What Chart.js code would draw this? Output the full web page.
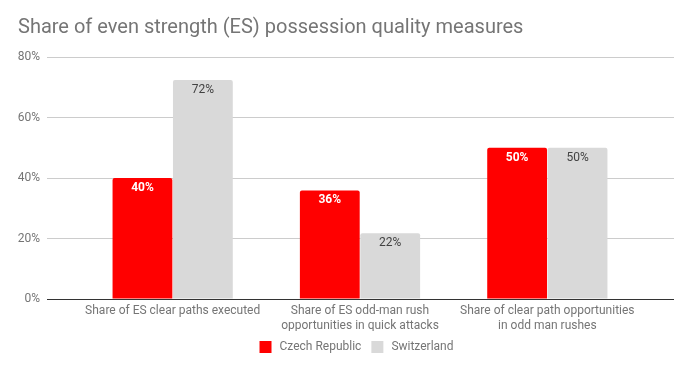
<!DOCTYPE html>
<html>
<head>
<meta charset="utf-8">
<script src="https://cdn.jsdelivr.net/npm/chart.js@4"></script>
<style>
  html, body { margin: 0; padding: 0; background: #fff; }
  #wrap { width: 693px; height: 371px; }
</style>
</head>
<body>
<div id="wrap"><canvas id="chart"></canvas></div>
<script>
// DATA

var categories = [
    'Share of ES clear paths executed',
    ['Share of ES odd-man rush', 'opportunities in quick attacks'],
    ['Share of clear path opportunities', 'in odd man rushes']
];
var czechValues = [40, 35.9, 50];
var swissValues = [72.4, 21.7, 50];
var yTicks = [0, 20, 40, 60, 80];

var textGray = '#757575';

// labels drawn at the top inside each bar
var barLabels = {
    id: 'barLabels',
    afterDatasetsDraw: function (chart) {
        var ctx = chart.ctx;
        chart.data.datasets.forEach(function (ds, i) {
            var meta = chart.getDatasetMeta(i);
            meta.data.forEach(function (bar, j) {
                ctx.save();
                ctx.font = (i === 0 ? 'bold ' : '') + '12px Roboto';
                ctx.fillStyle = i === 0 ? '#ffffff' : '#424242';
                ctx.textAlign = 'center';
                ctx.textBaseline = 'middle';
                ctx.fillText(Math.round(ds.data[j]) + '%', bar.x, bar.y + 10);
                ctx.restore();
            });
        });
    }
};

function gridColor(c) {
    return c.tick && c.tick.value === 0 ? '#333333' : '#cccccc';
}

var chart = new Chart(document.getElementById('chart'), {
    type: 'bar',
    data: {
        labels: categories,
        datasets: [{
            label: 'Czech Republic',
            data: czechValues,
            backgroundColor: '#ff0000',
            borderRadius: 2,
            categoryPercentage: 0.645,
            barPercentage: 0.99
        }, {
            label: 'Switzerland',
            data: swissValues,
            backgroundColor: '#d9d9d9',
            borderRadius: 2,
            categoryPercentage: 0.645,
            barPercentage: 0.99
        }]
    },
    options: {
        responsive: true,
        maintainAspectRatio: false,
        animation: false,
        layout: { padding: { left: 18, top: 0, right: 0, bottom: 6 } },
        plugins: {
            title: {
                display: true,
                text: 'Share of even strength (ES) possession quality measures',
                align: 'start',
                color: textGray,
                font: { family: 'Roboto', size: 20, weight: 'normal' },
                padding: { top: 16, bottom: 17 }
            },
            legend: {
                position: 'bottom',
                labels: {
                    color: textGray,
                    font: { family: 'Roboto', size: 12 },
                    boxWidth: 16,
                    boxHeight: 16,
                    padding: 8,
                    // white outline trims the 16px box to a 12px swatch with a wider gap
                    generateLabels: function (chart) {
                        var items = Chart.defaults.plugins.legend.labels.generateLabels(chart);
                        items.forEach(function (it) {
                            it.strokeStyle = '#ffffff';
                            it.lineWidth = 4;
                        });
                        return items;
                    }
                }
            },
            tooltip: { enabled: false }
        },
        scales: {
            x: {
                grid: { display: false, drawTicks: false },
                border: { display: false },
                ticks: {
                    color: textGray,
                    font: { family: 'Roboto', size: 12 },
                    padding: 5,
                    maxRotation: 0,
                    autoSkip: false
                },
                afterFit: function (scale) { scale.height = 32; }
            },
            y: {
                min: 0,
                max: 80,
                afterBuildTicks: function (scale) {
                    scale.ticks = yTicks.map(function (v) { return { value: v }; });
                },
                border: { display: false },
                grid: { color: gridColor, tickColor: gridColor, tickLength: 32 },
                ticks: {
                    color: textGray,
                    font: { family: 'Roboto', size: 12 },
                    padding: 7,
                    callback: function (v) { return v + '%'; }
                },
                afterFit: function (scale) { scale.width = 61; }
            },
            yRight: {
                position: 'right',
                min: 0,
                max: 80,
                afterBuildTicks: function (scale) {
                    scale.ticks = yTicks.map(function (v) { return { value: v }; });
                },
                border: { display: false },
                grid: { drawOnChartArea: false, tickColor: gridColor, tickLength: 33 },
                ticks: { display: false },
                afterFit: function (scale) { scale.width = 52; }
            }
        }
    },
    plugins: [barLabels]
});
</script>
</body>
</html>
